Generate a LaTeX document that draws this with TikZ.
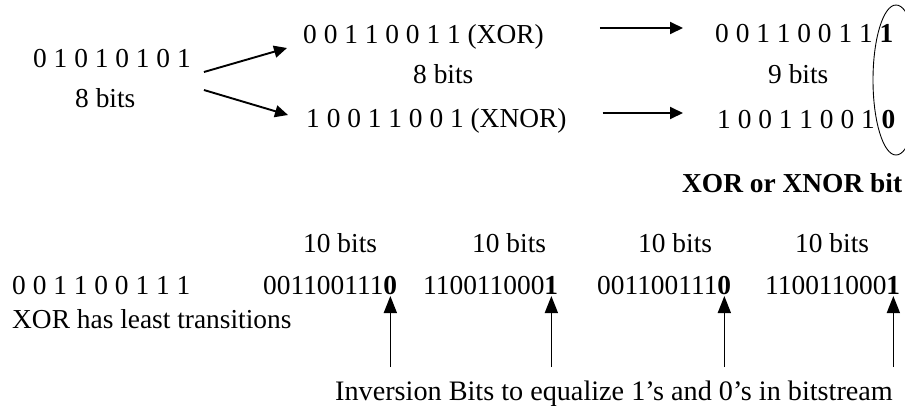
\documentclass[tikz,border=0pt]{standalone}
\usepackage{fontspec}
\setmainfont{Liberation Serif}
\usetikzlibrary{arrows.meta,calc,shapes.geometric}
\begin{document}
\begin{tikzpicture}[x=1pt,y=-1pt,
  lbl/.style={inner sep=0pt, anchor=base west, font=\fontsize{27.4}{32}\selectfont},
  arr/.style={line width=1.9pt, -{Triangle[length=13pt,width=12pt]}},
  uparr/.style={line width=1.6pt, -{Triangle[length=17pt,width=13pt]}},
]
\useasboundingbox (0,0) rectangle (905,405);
\clip (0,0) rectangle (905,405);

% --- 8-bit word and its two encodings
\node[lbl] (A)  at (33,67)    {0 1 0 1 0 1 0 1};
\node[lbl] (A2) at (75,107.5) {8 bits};
\node[lbl] (B)  at (303,43)   {0 0 1 1 0 0 1 1 (XOR)};
\node[lbl] (B2) at (413,83)   {8 bits};
\node[lbl] (C)  at (306,127)  {1 0 0 1 1 0 0 1 (XNOR)};

% --- 9-bit words with the appended flag bit
\node[lbl] (D)  at (715,42)   {0 0 1 1 0 0 1 1 \textbf{1}};
\node[lbl] (D2) at (768,83)   {9 bits};
\node[lbl] (E)  at (717,128)  {1 0 0 1 1 0 0 1 \textbf{0}};
\node[draw, ellipse, line width=0.9pt, inner sep=0pt,
      minimum width=46pt, minimum height=150pt] (sel) at (896,80) {};
\node[lbl, font=\fontsize{27.4}{32}\selectfont\bfseries] (F) at (682,192) {XOR or XNOR bit};

\draw[arr] ($(A.base east)+(13,5)$)  -- ($(B.base west)+(-16,5)$);
\draw[arr] ($(A.base east)+(13,23)$) -- ($(C.base west)+(-18,-12)$);
\draw[arr] ($(B.base east)+(56,-15)$) -- ($(D.base west)+(-32,-14)$);
\draw[arr] ($(C.base east)+(36,-14)$) -- ($(E.base west)+(-34,-15)$);

% --- 10-bit output stream
\node[lbl] (T1) at (303,252) {10 bits};
\node[lbl] (T2) at (472,252) {10 bits};
\node[lbl] (T3) at (638,252) {10 bits};
\node[lbl] (T4) at (795,252) {10 bits};

\node[lbl] (G)  at (12,294)  {0 0 1 1 0 0 1 1 1};
\node[lbl] (H1) at (263,294) {001100111\textbf{0}};
\node[lbl] (H2) at (423,294) {110011000\textbf{1}};
\node[lbl] (H3) at (597,294) {001100111\textbf{0}};
\node[lbl] (H4) at (765,294) {110011000\textbf{1}};
\node[lbl] (X)  at (12,328)  {XOR has least transitions};
\node[lbl, font=\fontsize{28.2}{32}\selectfont] (I) at (335,400)
  {Inversion Bits to equalize 1’s and 0’s in bitstream};

\foreach \h in {H1,H2,H3,H4}
  \draw[uparr] ($(\h.base east)+(-7,73)$) -- ($(\h.base east)+(-7,2)$);
\end{tikzpicture}
\end{document}
